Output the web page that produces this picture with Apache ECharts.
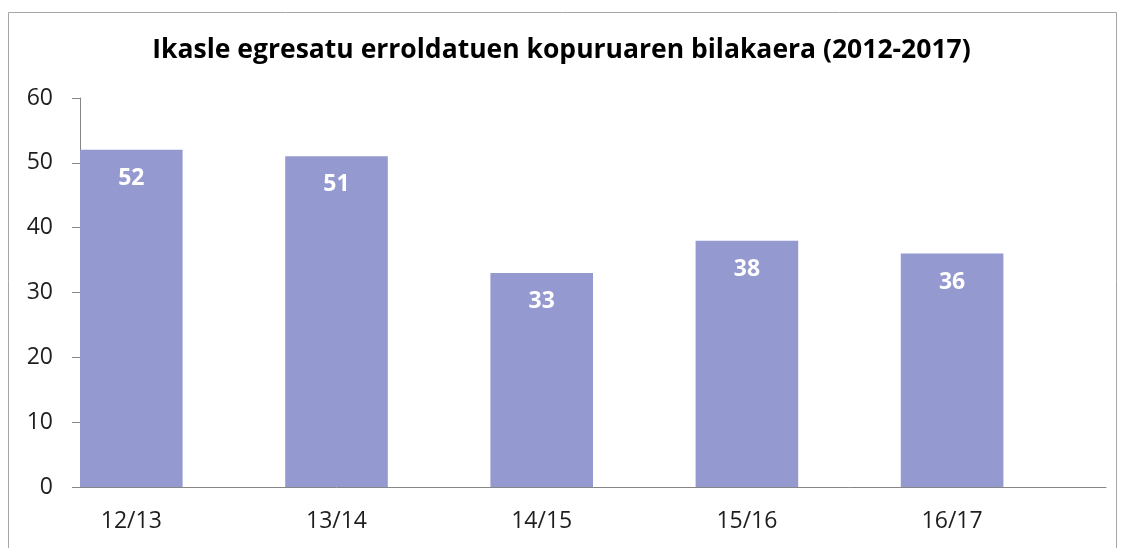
<!DOCTYPE html>
<html><head><meta charset="utf-8">
<script src="https://cdn.jsdelivr.net/npm/echarts@6/dist/echarts.min.js"></script>
<style>html,body{margin:0;padding:0;background:#fff}#c{width:1123px;height:548px}</style>
</head><body><div id="c"></div>
<script>
const categories = ['12/13','13/14','14/15','15/16','16/17'];
const values = [52, 51, 33, 38, 36];
const titleText = 'Ikasle egresatu erroldatuen kopuruaren bilakaera (2012-2017)';
const chart = echarts.init(document.getElementById('c'), null, {renderer:'canvas'});
const catW = (1106 - 80) / categories.length;
chart.setOption({
  animation:false,
  title:{text:titleText,left:'center',top:32,textStyle:{fontFamily:'Open Sans',fontWeight:'bold',fontSize:26.5,color:'#000'}},
  graphic:[{type:'rect',shape:{x:8.5,y:12.5,width:1108,height:600},style:{fill:'none',stroke:'#a6a6a6',lineWidth:1},silent:true}],
  grid:{left:80,right:17,top:98,bottom:61,containLabel:false},
  xAxis:{type:'category',data:categories,
    axisLine:{lineStyle:{color:'#868686',width:1}},axisTick:{show:false},
    axisLabel:{fontFamily:'Open Sans',fontWeight:'normal',fontSize:23,color:'#1e1e1e',margin:23,padding:[0,catW/2,0,0]}},
  yAxis:{type:'value',min:0,max:60,interval:10,
    axisLine:{show:true,lineStyle:{color:'#868686'}},
    axisTick:{show:true,length:8,lineStyle:{color:'#868686'}},
    splitLine:{show:false},
    axisLabel:{fontFamily:'Open Sans',fontWeight:'normal',fontSize:23,color:'#1e1e1e',margin:27}},
  series:[
    {type:'bar',data:values,barCategoryGap:'0%',barGap:'0%',itemStyle:{color:'#9499d0'},
     label:{show:true,position:'insideTop',distance:17,color:'#fff',fontFamily:'Open Sans',fontWeight:'bold',fontSize:23}},
    {type:'bar',data:categories.map(()=>null),barCategoryGap:'0%',barGap:'0%'}
  ]
});
</script></body></html>
